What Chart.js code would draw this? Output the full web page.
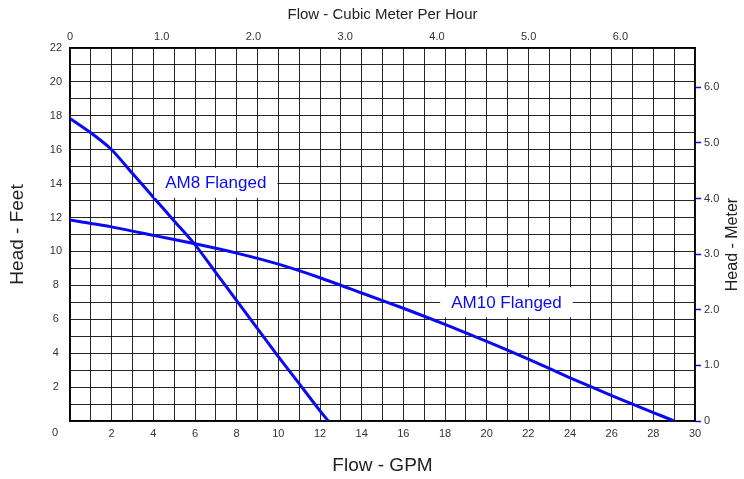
<!DOCTYPE html>
<html>
<head>
<meta charset="utf-8">
<script src="https://cdn.jsdelivr.net/npm/chart.js@4/dist/chart.umd.min.js"></script>
<style>
  html, body { margin: 0; padding: 0; background: #fff; }
  #wrap { width: 744px; height: 479px; position: relative; }
</style>
</head>
<body>
<div id="wrap"><canvas id="c"></canvas></div>
<script>
// ---- Data ----
const gpmAM8   = [0, 1, 2, 3, 4, 5, 6, 7, 8, 9, 10, 11, 12, 12.4];
const headAM8  = [17.85, 17.0, 16.0, 14.6, 13.2, 11.8, 10.4, 8.75, 7.1, 5.45, 3.8, 2.2, 0.6, 0];
const gpmAM10  = [0, 2, 4, 6, 8, 10, 12, 14, 16, 18, 20, 22, 24, 26, 28, 29];
const headAM10 = [11.85, 11.45, 10.95, 10.45, 9.9, 9.25, 8.45, 7.55, 6.65, 5.7, 4.7, 3.65, 2.55, 1.5, 0.5, 0];

const seriesNames = ['AM8 Flanged', 'AM10 Flanged'];
const labelAnchorsX = [7.0, 20.95];   // GPM where the curve labels sit
const labelAnchorsY = [14.05, 7.0];   // Feet where the curve labels sit

const gpmMax = 30, feetMax = 22;
const GPM_PER_M3H = 4.4029;
const FT_PER_M = 3.2808;
const m3hTicks = [0, 1, 2, 3, 4, 5, 6];
const meterTicks = [0, 1, 2, 3, 4, 5, 6];

const FONT = '"Liberation Sans", Arial, Helvetica, sans-serif';
const BLUE = '#0a0af2';

function pts(xs, ys) { return xs.map((x, i) => ({ x: x, y: ys[i] })); }

const overlay = {
  id: 'overlay',
  afterDatasetsDraw(chart) {
    const ctx = chart.ctx;
    const xs = chart.scales.x, ys = chart.scales.y;
    const ca = chart.chartArea;
    ctx.save();
    // curve labels with white boxes
    ctx.font = '17px ' + FONT;
    ctx.textAlign = 'center';
    ctx.textBaseline = 'middle';
    seriesNames.forEach((name, i) => {
      const px = xs.getPixelForValue(labelAnchorsX[i]);
      const py = ys.getPixelForValue(labelAnchorsY[i]);
      const w = ctx.measureText(name).width + 22;
      const h = 30;
      ctx.fillStyle = '#ffffff';
      ctx.fillRect(px - w / 2, py - h / 2, w, h);
      ctx.fillStyle = BLUE;
      ctx.fillText(name, px, py + 1);
    });
    // shared corner "0"
    ctx.font = '11px ' + FONT;
    ctx.fillStyle = '#333';
    ctx.fillText('0', ca.left - 15, ca.bottom + 12);
    // right axis title, reading bottom to top
    ctx.font = '16px ' + FONT;
    ctx.fillStyle = '#222';
    ctx.translate(733, (ca.top + ca.bottom) / 2 + 10);
    ctx.rotate(-Math.PI / 2);
    ctx.fillText('Head - Meter', 0, 0);
    ctx.restore();
  }
};

new Chart(document.getElementById('c'), {
  type: 'line',
  data: {
    datasets: [
      { label: seriesNames[0], data: pts(gpmAM8, headAM8), xAxisID: 'x', yAxisID: 'y',
        borderColor: BLUE, borderWidth: 3, pointRadius: 0, fill: false, tension: 0.25 },
      { label: seriesNames[1], data: pts(gpmAM10, headAM10), xAxisID: 'x', yAxisID: 'y',
        borderColor: BLUE, borderWidth: 3, pointRadius: 0, fill: false, tension: 0.25 }
    ]
  },
  options: {
    responsive: true,
    maintainAspectRatio: false,
    animation: false,
    layout: { padding: 0 },
    plugins: { legend: { display: false }, tooltip: { enabled: false }, title: { display: false } },
    scales: {
      x: {
        type: 'linear', position: 'bottom', min: 0, max: gpmMax,
        afterFit: s => { s.height = 58; },
        grid: { color: 'rgba(0,0,0,0.85)', lineWidth: 1, drawTicks: false },
        border: { color: '#000', width: 1.5 },
        ticks: { stepSize: 1, autoSkip: false, maxRotation: 0, padding: 6, color: '#333',
          font: { family: FONT, size: 11 },
          callback: v => (v !== 0 && v % 2 === 0) ? String(v) : '' },
        title: { display: true, text: 'Flow - GPM', color: '#222', font: { family: FONT, size: 19 },
          padding: { top: 0, bottom: 2 } }
      },
      x2: {
        type: 'linear', position: 'top', min: 0, max: gpmMax / GPM_PER_M3H,
        afterFit: s => { s.height = 48; },
        grid: { drawOnChartArea: false, drawTicks: false },
        border: { color: '#000', width: 1.5 },
        afterBuildTicks: s => { s.ticks = m3hTicks.map(v => ({ value: v })); },
        ticks: { autoSkip: false, maxRotation: 0, padding: 4, color: '#333', includeBounds: false,
          font: { family: FONT, size: 11 },
          callback: v => v === 0 ? '0' : v.toFixed(1) },
        title: { display: true, text: 'Flow - Cubic Meter Per Hour', color: '#222', font: { family: FONT, size: 15 },
          padding: { top: 6, bottom: 0 } }
      },
      y: {
        type: 'linear', position: 'left', min: 0, max: feetMax,
        afterFit: s => { s.width = 70; },
        grid: { color: 'rgba(0,0,0,0.85)', lineWidth: 1, drawTicks: false },
        border: { color: '#000', width: 1.5 },
        ticks: { stepSize: 1, autoSkip: false, padding: 8, crossAlign: 'center', color: '#333',
          font: { family: FONT, size: 11 },
          callback: v => (v !== 0 && v % 2 === 0) ? String(v) : '' },
        title: { display: true, text: 'Head - Feet', color: '#222', font: { family: FONT, size: 19 },
          padding: { top: 6, bottom: 0 } }
      },
      y2: {
        type: 'linear', position: 'right', min: 0, max: feetMax / FT_PER_M,
        afterFit: s => { s.width = 49; },
        grid: { drawOnChartArea: false, drawTicks: true, tickLength: 6, color: BLUE, tickColor: BLUE, tickWidth: 1.5 },
        border: { color: '#000', width: 1.5 },
        afterBuildTicks: s => { s.ticks = meterTicks.map(v => ({ value: v })); },
        ticks: { autoSkip: false, padding: 3, color: '#333', includeBounds: false,
          font: { family: FONT, size: 11 },
          callback: v => v === 0 ? '0' : v.toFixed(1) }
      }
    }
  },
  plugins: [overlay]
});
</script>
</body>
</html>
